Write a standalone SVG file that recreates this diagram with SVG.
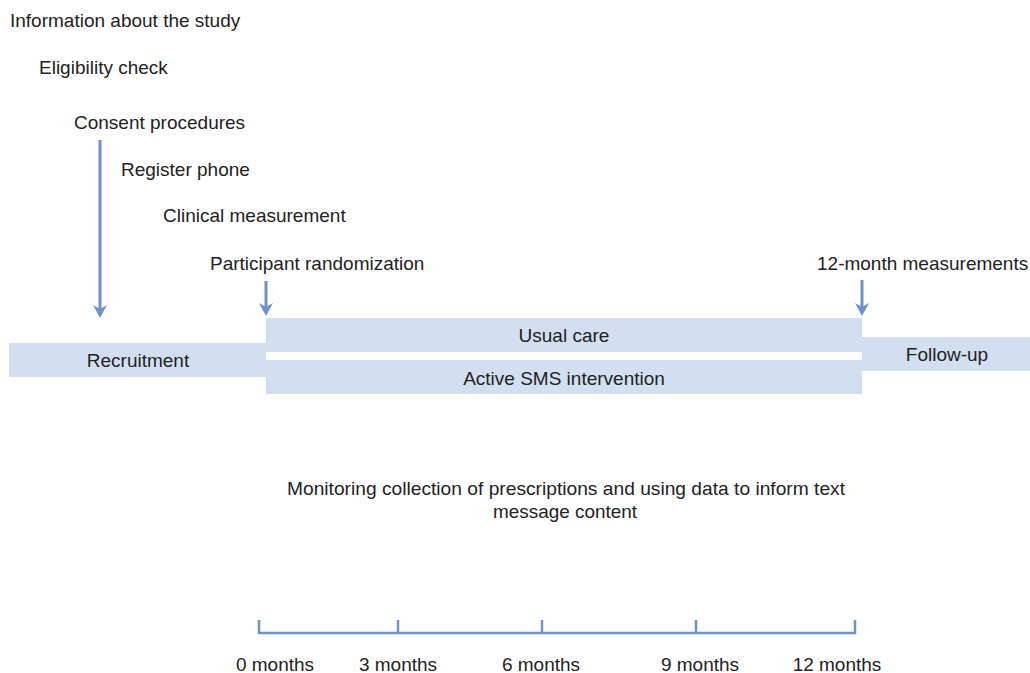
<svg xmlns="http://www.w3.org/2000/svg" width="1030" height="673" viewBox="0 0 1030 673">
<style>
text{font-family:"Liberation Sans",Arial,sans-serif;font-size:19px;fill:#222}
.m{text-anchor:middle}
.bar{fill:#d3dff0}
.arr{stroke:#6f92c9;stroke-width:3;fill:none}
.ah{fill:#6f92c9}
.tl{stroke:#6f92c9;stroke-width:2.5;fill:none}
</style>
<rect width="1030" height="673" fill="#fff"/>
<g id="steps">
<text x="10" y="27">Information about the study</text>
<text x="39" y="74">Eligibility check</text>
<text x="74" y="129">Consent procedures</text>
<text x="121" y="176">Register phone</text>
<text x="163" y="222">Clinical measurement</text>
<text x="210" y="270">Participant randomization</text>
<text x="817" y="270">12-month measurements</text>
</g>
<g id="recruitment"><rect class="bar" x="9" y="343" width="257" height="34"/><text class="m" x="138" y="367">Recruitment</text></g>
<g id="usual-care"><rect class="bar" x="266" y="318" width="596" height="34"/><text class="m" x="564" y="342">Usual care</text></g>
<g id="active-sms"><rect class="bar" x="266" y="360" width="596" height="34"/><text class="m" x="564" y="385">Active SMS intervention</text></g>
<g id="follow-up"><rect class="bar" x="862" y="337" width="168" height="34"/><text class="m" x="947" y="361">Follow-up</text></g>
<g id="monitoring">
<text class="m" x="566" y="495" textLength="558" lengthAdjust="spacingAndGlyphs">Monitoring collection of prescriptions and using data to inform text</text>
<text class="m" x="565" y="518" textLength="144" lengthAdjust="spacingAndGlyphs">message content</text>
</g>
<g id="connectors">
<path class="arr" d="M100 140V314"/>
<path class="ah" d="M93 305L100 318L107 305L100 309Z"/>
<path class="arr" d="M266 281V312"/>
<path class="ah" d="M259 303L266 316L273 303L266 307Z"/>
<path class="arr" d="M862 280V312"/>
<path class="ah" d="M855 303L862 316L869 303L862 307Z"/>
</g>
<g id="timeline">
<path class="tl" d="M259 620V633H855V620M398 620V633M542 620V633M696 620V633"/>
<text class="m" x="275" y="671">0 months</text>
<text class="m" x="398" y="671">3 months</text>
<text class="m" x="541" y="671">6 months</text>
<text class="m" x="700" y="671">9 months</text>
<text class="m" x="837" y="671">12 months</text>
</g>
</svg>
